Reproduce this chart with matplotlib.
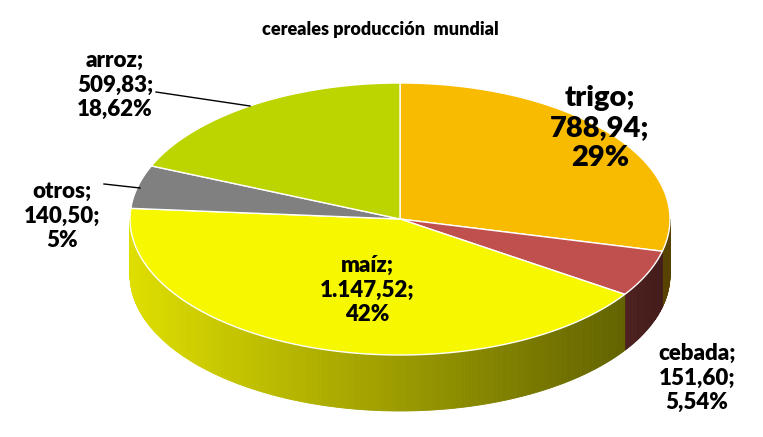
import numpy as np
import matplotlib.pyplot as plt
from matplotlib.colors import to_rgb
from matplotlib.patches import Polygon

plt.rcParams['font.family'] = ['Lato', 'DejaVu Sans']

# data
names = ["trigo", "cebada", "maíz", "otros", "arroz"]
values = [788.94, 151.60, 1147.52, 140.50, 509.83]
label_vals = ["788,94", "151,60", "1.147,52", "140,50", "509,83"]
label_pcts = ["29%", "5,54%", "42%", "5%", "18,62%"]
colors = ["#f9bb00", "#c0504d", "#f7f700", "#808080", "#bcd400"]

# pie geometry in pixel coords
cx, cy, rx, ry, depth = 400, 219, 270, 136, 56

fig = plt.figure(figsize=(7.63, 4.37), dpi=100)
ax = fig.add_axes([0, 0, 1, 1])
ax.set_xlim(0, 763)
ax.set_ylim(437, 0)
ax.axis("off")


def pt(th):
    r = np.radians(th)
    return cx + rx * np.sin(r), cy - ry * np.cos(r)


total = sum(values)
bounds = np.concatenate([[0], np.cumsum(values) / total * 360])

# sides (front half only), shaded strip by strip
for i, c in enumerate(colors):
    a0, a1 = max(bounds[i], 90), min(bounds[i + 1], 270)
    if a1 <= a0:
        continue
    angs = np.linspace(a0, a1, int((a1 - a0) * 2) + 2)
    base = np.array(to_rgb(c))
    for t0, t1 in zip(angs[:-1], angs[1:]):
        x0, y0 = pt(t0)
        x1, y1 = pt(t1)
        f = 0.9 - 0.55 * ((x0 + x1) / 2 - (cx - rx)) / (2 * rx)
        ax.add_patch(Polygon([(x0, y0), (x1, y1), (x1, y1 + depth), (x0, y0 + depth)],
                             closed=True, facecolor=base * f, edgecolor=base * f, lw=0.6))

# top wedges
for i, c in enumerate(colors):
    angs = np.linspace(bounds[i], bounds[i + 1], 100)
    pts = [(cx, cy)] + [pt(a) for a in angs]
    ax.add_patch(Polygon(pts, closed=True, facecolor=c, edgecolor="white", lw=1))

ax.text(380, 30, "cereales producción  mundial", ha="center", va="center",
        fontsize=13, fontweight="heavy")

lab_pos = [(600, 128, 21), (697, 378, 16), (367, 290, 16), (62, 216, 16), (115, 85, 16)]
for n, v, p, (x, y, fs) in zip(names, label_vals, label_pcts, lab_pos):
    ax.text(x, y, f"{n};\n{v};\n{p}", ha="center", va="center",
            fontsize=fs, fontweight="heavy", linespacing=1.2)

ax.plot([156, 250], [92, 106], color="black", lw=1)
ax.plot([104, 140], [184, 188], color="black", lw=1)

fig.savefig("out.png", dpi=100)
